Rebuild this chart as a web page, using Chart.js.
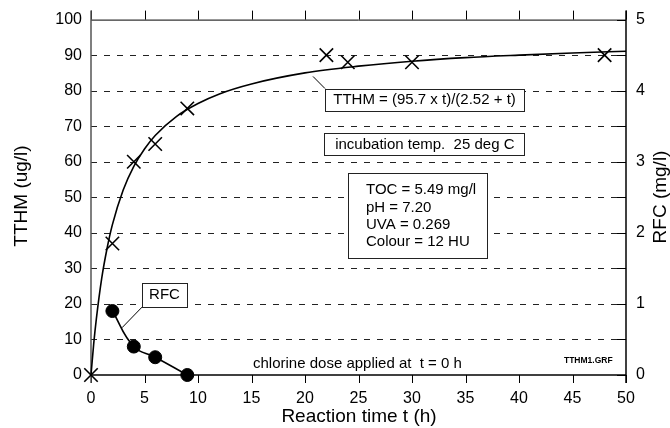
<!DOCTYPE html>
<html>
<head>
<meta charset="utf-8">
<script src="https://cdn.jsdelivr.net/npm/chart.js@4"></script>
<style>
  body { margin: 0; background: #fff; }
  canvas { display: block; }
</style>
</head>
<body>
<canvas id="chart-tthm" width="670" height="428"></canvas>
<script>
// TTHM formation vs reaction time, RFC on right axis

const FONT = "'Liberation Sans', Arial, Helvetica, sans-serif";

// measured TTHM (ug/l)
const tthmTime = [0, 2, 4, 6, 9, 22, 24, 30, 48];
const tthmValue = [0, 37, 60, 65, 75, 90, 88, 88, 90];

// fitted curve
const fitTime = [0, 0.25, 0.5, 1, 1.5, 2, 3, 4, 5, 6, 8, 10, 12, 15, 20, 25, 30, 35, 40, 45, 50];
const fitValue = [0, 8.7, 15.8, 27.2, 35.6, 42.3, 52.0, 58.7, 63.6, 67.4, 72.8, 76.4, 79.1, 81.9, 85.0, 86.9, 88.3, 89.3, 90.0, 90.6, 91.1];

// residual free chlorine (mg/l)
const rfcTime = [2, 4, 6, 9];
const rfcValue = [0.9, 0.4, 0.25, 0];

const xTicks = [0, 5, 10, 15, 20, 25, 30, 35, 40, 45, 50];
const yTicks = [0, 10, 20, 30, 40, 50, 60, 70, 80, 90, 100];

const toPts = (xs, ys) => xs.map((x, i) => ({ x, y: ys[i] }));

// grid, frame, ticks, notes and titles
const framePlugin = {
  id: "frame",
  beforeDatasetsDraw(chart) {
    const { ctx, chartArea: a, scales } = chart;
    const x = scales.x, y = scales.y;
    ctx.save();

    // dashed grid
    ctx.strokeStyle = "#222";
    ctx.lineWidth = 1;
    ctx.setLineDash([6, 7]);
    yTicks.slice(1, -1).forEach(v => {
      const py = Math.round(y.getPixelForValue(v)) + 0.5;
      ctx.beginPath();
      ctx.moveTo(a.left, py);
      ctx.lineTo(a.right, py);
      ctx.stroke();
    });
    ctx.setLineDash([]);

    // right axis inner ticks
    ctx.strokeStyle = "#000";
    yTicks.forEach(v => {
      const py = Math.round(y.getPixelForValue(v)) + 0.5;
      ctx.beginPath();
      ctx.moveTo(a.right - 9, py);
      ctx.lineTo(a.right, py);
      ctx.stroke();
    });

    // top and bottom ticks
    xTicks.forEach(v => {
      const px = Math.round(x.getPixelForValue(v)) + 0.5;
      ctx.beginPath();
      ctx.moveTo(px, a.top - 9);
      ctx.lineTo(px, a.top);
      ctx.moveTo(px, a.bottom);
      ctx.lineTo(px, a.bottom + 8);
      ctx.stroke();
    });

    // axes lines
    ctx.strokeStyle = "#000";
    ctx.lineWidth = 1;
    ctx.beginPath();
    ctx.moveTo(a.left, a.top + 0.5);
    ctx.lineTo(a.right, a.top + 0.5);
    ctx.stroke();

    ctx.lineWidth = 1.5;
    ctx.beginPath();
    ctx.moveTo(a.left, a.bottom);
    ctx.lineTo(a.right, a.bottom);
    ctx.stroke();

    ctx.beginPath();
    ctx.moveTo(a.right, a.top - 9);
    ctx.lineTo(a.right, a.bottom + 8);
    ctx.stroke();

    ctx.strokeStyle = "#555";
    ctx.beginPath();
    ctx.moveTo(a.left, a.top - 9);
    ctx.lineTo(a.left, a.bottom + 8);
    ctx.stroke();

    ctx.restore();
  },

  afterDatasetsDraw(chart) {
    const { ctx, chartArea: a, scales } = chart;
    const X = v => scales.x.getPixelForValue(v);
    const Y = v => scales.y.getPixelForValue(v);
    ctx.save();

    const box = (x0, y0, x1, y1) => {
      const l = Math.round(X(x0)) + 0.5, t = Math.round(Y(y0)) + 0.5;
      const r = Math.round(X(x1)) + 0.5, b = Math.round(Y(y1)) + 0.5;
      ctx.fillStyle = "#fff";
      ctx.fillRect(l, t, r - l, b - t);
      ctx.strokeStyle = "#222";
      ctx.lineWidth = 1;
      ctx.strokeRect(l, t, r - l, b - t);
    };
    const line = (x0, y0, x1, y1) => {
      ctx.strokeStyle = "#000";
      ctx.lineWidth = 1;
      ctx.beginPath();
      ctx.moveTo(X(x0), Y(y0));
      ctx.lineTo(X(x1), Y(y1));
      ctx.stroke();
    };

    ctx.fillStyle = "#000";
    ctx.font = "15px " + FONT;
    ctx.textBaseline = "middle";

    // fit formula
    line(20.75, 84.0, 21.87, 80.6);
    box(21.87, 80.6, 40.47, 74.4);
    ctx.fillStyle = "#000";
    ctx.textAlign = "center";
    ctx.fillText("TTHM = (95.7 x t)/(2.52 + t)", X(31.17), Y(77.4));

    // incubation
    box(21.78, 68.0, 40.47, 61.8);
    ctx.fillStyle = "#000";
    ctx.fillText("incubation temp.  25 deg C", X(31.2), Y(64.8));

    // water quality
    box(24.02, 56.7, 37.01, 32.9);
    ctx.fillStyle = "#000";
    ctx.textAlign = "left";
    ["TOC = 5.49 mg/l", "pH = 7.20", "UVA = 0.269", "Colour = 12 HU"].forEach((s, i) => {
      ctx.fillText(s, X(25.7), Y(52.0 - i * 4.85));
    });

    // RFC label
    line(4.77, 19.1, 2.90, 13.3);
    box(4.77, 25.8, 8.97, 19.1);
    ctx.fillStyle = "#000";
    ctx.textAlign = "center";
    ctx.fillText("RFC", X(6.87), Y(22.5));

    // chlorine note
    ctx.textAlign = "left";
    ctx.fillText("chlorine dose applied at  t = 0 h", X(15.14), Y(3.1));

    ctx.font = "bold 8.5px " + FONT;
    ctx.fillText("TTHM1.GRF", X(44.2), Y(3.9));

    // axis titles
    ctx.font = "19px " + FONT;
    ctx.textAlign = "center";
    ctx.fillText("Reaction time t (h)", (a.left + a.right) / 2 + 0.5, 417);

    ctx.save();
    ctx.translate(22, 196);
    ctx.rotate(-Math.PI / 2);
    ctx.fillText("TTHM (ug/l)", 0, 0);
    ctx.restore();

    ctx.save();
    ctx.translate(661, 197);
    ctx.rotate(-Math.PI / 2);
    ctx.fillText("RFC (mg/l)", 0, 0);
    ctx.restore();

    ctx.restore();
  }
};

new Chart(document.getElementById("chart-tthm"), {
  type: "scatter",
  data: {
    datasets: [
      {
        label: "TTHM fit",
        data: toPts(fitTime, fitValue),
        showLine: true,
        borderColor: "#000",
        borderWidth: 1.6,
        pointRadius: 0,
        cubicInterpolationMode: "monotone",
        clip: false
      },
      {
        label: "TTHM",
        data: toPts(tthmTime, tthmValue),
        showLine: false,
        pointStyle: "crossRot",
        pointRadius: 9.5,
        borderColor: "#000",
        borderWidth: 1.6,
        clip: false
      },
      {
        label: "RFC",
        yAxisID: "y1",
        data: toPts(rfcTime, rfcValue),
        showLine: true,
        borderColor: "#000",
        borderWidth: 1.6,
        tension: 0.45,
        pointStyle: "circle",
        pointRadius: 6.5,
        pointBackgroundColor: "#000",
        pointBorderColor: "#000",
        pointBorderWidth: 1,
        clip: false
      }
    ]
  },
  options: {
    responsive: false,
    animation: false,
    devicePixelRatio: 1,
    layout: { padding: { top: 19, left: 0, right: 0, bottom: 0 } },
    plugins: { legend: { display: false }, tooltip: { enabled: false } },
    scales: {
      x: {
        type: "linear",
        position: "bottom",
        min: 0, max: 50,
        afterBuildTicks: s => { s.ticks = xTicks.map(v => ({ value: v })); },
        ticks: { color: "#000", font: { family: FONT, size: 16 }, padding: 14, maxRotation: 0 },
        grid: { display: false, drawTicks: false },
        border: { display: false },
        afterFit: s => { s.height = 53; }
      },
      y: {
        type: "linear",
        position: "left",
        min: 0, max: 100,
        afterBuildTicks: s => { s.ticks = yTicks.map(v => ({ value: v })); },
        ticks: { color: "#000", font: { family: FONT, size: 16 }, padding: 9 },
        grid: { display: false, drawTicks: false },
        border: { display: false },
        afterFit: s => { s.width = 91; }
      },
      y1: {
        type: "linear",
        position: "right",
        min: 0, max: 5,
        ticks: { stepSize: 1, color: "#000", font: { family: FONT, size: 16 }, padding: 10 },
        grid: { display: false, drawTicks: false },
        border: { display: false },
        afterFit: s => { s.width = 44; }
      }
    }
  },
  plugins: [framePlugin]
});
</script>
</body>
</html>
